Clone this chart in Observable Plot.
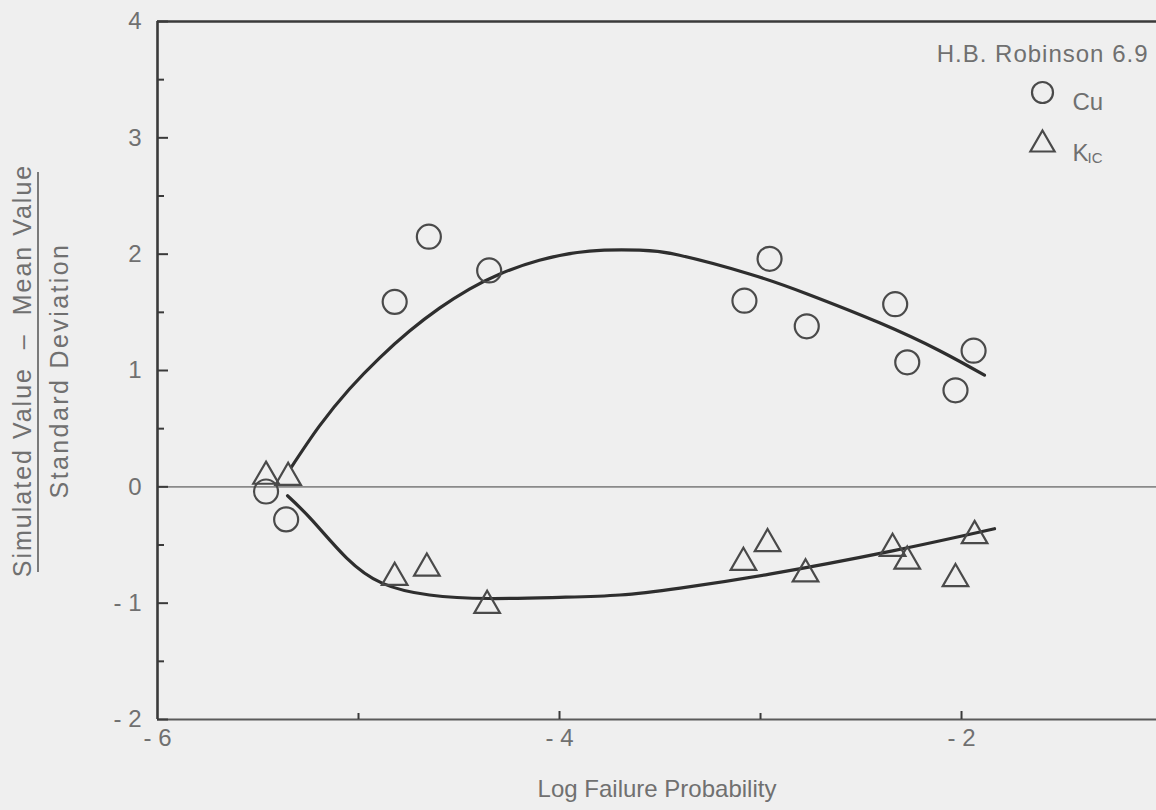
<!DOCTYPE html>
<html>
<head>
<meta charset="utf-8">
<script src="https://cdn.jsdelivr.net/npm/d3@7"></script>
<script src="https://cdn.jsdelivr.net/npm/@observablehq/plot@0.6"></script>
<style>
  html, body { margin: 0; padding: 0; background: #efefef; }
  #chart { width: 1156px; height: 810px; }
</style>
</head>
<body>
<div id="chart"></div>
<script>
// ---- data ----
const cuX = [-5.46, -5.36, -4.82, -4.65, -4.35, -3.08, -2.955, -2.77, -2.33, -2.27, -2.03, -1.94];
const cuY = [-0.04, -0.28, 1.59, 2.15, 1.86, 1.60, 1.96, 1.38, 1.57, 1.07, 0.83, 1.17];
const kX = [-5.46, -5.35, -4.82, -4.66, -4.36, -3.085, -2.965, -2.776, -2.343, -2.27, -2.03, -1.935];
const kY = [0.09, 0.08, -0.78, -0.70, -1.02, -0.65, -0.49, -0.75, -0.53, -0.64, -0.79, -0.42];

// hand-drawn fit curves
const cuFitX = [-5.333, -5.194, -5.045, -4.896, -4.746, -4.597, -4.448, -4.299, -4.1, -3.851, -3.602, -3.403, -3.055, -2.771, -2.408, -2.109, -1.886];
const cuFitY = [0.172, 0.524, 0.841, 1.107, 1.339, 1.536, 1.700, 1.828, 1.948, 2.026, 2.034, 1.991, 1.83, 1.66, 1.41, 1.17, 0.96];
const kFitX = [-5.353, -5.229, -5.06, -4.88, -4.647, -4.35, -4.0, -3.7, -3.4, -2.955, -2.343, -1.836];
const kFitY = [-0.077, -0.29, -0.61, -0.83, -0.93, -0.96, -0.95, -0.93, -0.87, -0.75, -0.55, -0.36];

const yMajor = [-2, -1, 0, 1, 2, 3, 4];
const yMinor = [-1.5, -0.5, 0.5, 1.5, 2.5, 3.5];
const xMajor = [-4, -2];
const xMinor = [-5, -3];
const xLabels = [-6, -4, -2];

const title = "H.B. Robinson 6.9";
const legendCu = "Cu";
const legendK = "K";
const legendKSub = "IC";
const xTitle = "Log Failure Probability";
const yTitleTop = "Simulated Value  \u2013  Mean Value";
const yTitleBottom = "Standard Deviation";

const cu = cuX.map((x, i) => ({x, y: cuY[i]}));
const k = kX.map((x, i) => ({x, y: kY[i]}));
const cuFit = cuFitX.map((x, i) => ({x, y: cuFitY[i]}));
const kFit = kFitX.map((x, i) => ({x, y: kFitY[i]}));

const fmt = d => d < 0 ? "- " + Math.abs(d) : String(d);
const ink = "#3a3a3a";
const txt = "#707070";
const font = 24;

const plot = Plot.plot({
  width: 1156,
  height: 810,
  marginLeft: 157,
  marginRight: 0,
  marginTop: 21,
  marginBottom: 91,
  x: {domain: [-6, -1.03]},
  y: {domain: [-2, 4]},
  style: {background: "#efefef", fontFamily: "'Liberation Sans', Arial, sans-serif", color: txt, overflow: "visible"},
  marks: [
    Plot.ruleY([0], {stroke: "#8a8a8a", strokeWidth: 1.6}),
    Plot.ruleY([4], {stroke: ink, strokeWidth: 2.6}),
    Plot.ruleY([-2], {stroke: "#5a5a5a", strokeWidth: 2.2}),
    Plot.ruleX([-6], {stroke: ink, strokeWidth: 2.6}),
    // y ticks (inward)
    Plot.axisY({ticks: yMajor, tickSize: -11, tickFormat: () => "", label: null, stroke: ink, strokeWidth: 2}),
    Plot.axisY({ticks: yMinor, tickSize: -7, tickFormat: () => "", label: null, stroke: ink, strokeWidth: 2}),
    Plot.axisY({ticks: yMajor, tickSize: 0, tickPadding: 16, tickFormat: fmt, label: null, fontSize: font, fill: txt}),
    // x ticks (inward)
    Plot.axisX({ticks: xMajor, tickSize: -8, tickFormat: () => "", label: null, stroke: ink, strokeWidth: 2}),
    Plot.axisX({ticks: xMinor, tickSize: -6, tickFormat: () => "", label: null, stroke: ink, strokeWidth: 2}),
    Plot.axisX({ticks: xLabels, tickSize: 0, tickPadding: 9, tickFormat: fmt, label: null, fontSize: font, fill: txt}),
    // fit curves
    Plot.line(cuFit, {x: "x", y: "y", curve: "natural", stroke: "#2e2e2e", strokeWidth: 3.2}),
    Plot.line(kFit, {x: "x", y: "y", curve: "natural", stroke: "#2e2e2e", strokeWidth: 3.2}),
    // data points
    Plot.dot(cu, {x: "x", y: "y", r: 12, symbol: "circle", stroke: "#4a4a4a", strokeWidth: 2.2, fill: "none"}),
    Plot.dot(k, {x: "x", y: "y", r: 9.5, symbol: "triangle", stroke: "#4a4a4a", strokeWidth: 2.2, fill: "none"}),
    // titles
    Plot.text([xTitle], {frameAnchor: "bottom", dy: 77, fontSize: font, fill: txt}),
    Plot.text([yTitleTop], {frameAnchor: "left", textAnchor: "middle", rotate: -90, dx: -135, fontSize: 25, fill: txt}),
    Plot.text([yTitleBottom], {frameAnchor: "left", textAnchor: "middle", rotate: -90, dx: -98, fontSize: 25, fill: txt}),
    // legend
    Plot.text([title], {frameAnchor: "top-right", dx: -8, dy: 23, textAnchor: "end", fontSize: font, fill: txt}),
    Plot.dot([legendCu], {frameAnchor: "top-right", dx: -114, dy: 71, r: 10.5, symbol: "circle", stroke: "#4a4a4a", strokeWidth: 2.2, fill: "none"}),
    Plot.dot([legendK], {frameAnchor: "top-right", dx: -114, dy: 123, r: 9, symbol: "triangle", stroke: "#4a4a4a", strokeWidth: 2.2, fill: "none"}),
    Plot.text([legendCu], {frameAnchor: "top-right", dx: -84, dy: 71, textAnchor: "start", fontSize: font, fill: txt}),
    Plot.text([legendK], {frameAnchor: "top-right", dx: -84, dy: 122, textAnchor: "start", fontSize: font, fill: txt}),
    Plot.text([legendKSub], {frameAnchor: "top-right", dx: -69, dy: 131, textAnchor: "start", fontSize: 15, fill: txt})
  ]
});

document.getElementById("chart").appendChild(plot);

const svg = d3.select(plot);
// letter spacing of the typeset labels
const spacing = new Map([[yTitleTop, "2px"], [yTitleBottom, "2.4px"], [title, "1px"]]);
svg.selectAll("text").each(function() {
  const s = spacing.get(this.textContent);
  if (s) this.style.letterSpacing = s;
});
// fraction bar of the y-axis title
svg.append("line")
  .attr("x1", 38).attr("x2", 38)
  .attr("y1", 172).attr("y2", 572)
  .attr("stroke", "#7a7a7a").attr("stroke-width", 2);
</script>
</body>
</html>
